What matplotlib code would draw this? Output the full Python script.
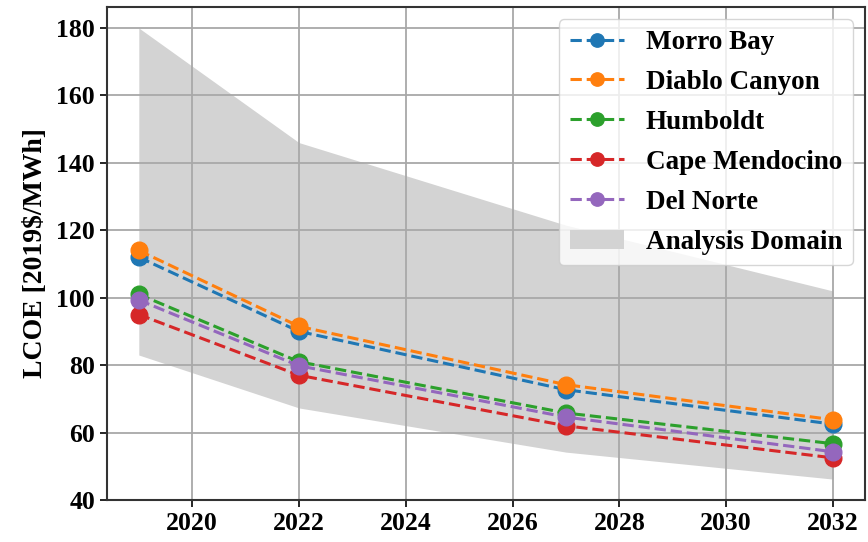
import numpy as np
import matplotlib.pyplot as plt

plt.rcParams["font.family"] = ["Liberation Serif", "DejaVu Serif"]
plt.rcParams["font.weight"] = "bold"

years = [2019, 2022, 2027, 2032]
morro_bay = [112, 90, 72.7, 62.5]
diablo_canyon = [114, 91.5, 74.2, 63.8]
humboldt = [101, 81, 65.8, 56.7]
cape_mendocino = [95, 77, 62, 52.5]
del_norte = [99.3, 79.8, 64.6, 54.3]
domain_upper = [180, 146, 121.5, 102]
domain_lower = [83, 67.3, 54.2, 46.2]

series = [
    ("Morro Bay", morro_bay, "tab:blue"),
    ("Diablo Canyon", diablo_canyon, "tab:orange"),
    ("Humboldt", humboldt, "tab:green"),
    ("Cape Mendocino", cape_mendocino, "tab:red"),
    ("Del Norte", del_norte, "tab:purple"),
]

fig = plt.figure(figsize=(8.68, 5.42), dpi=100)
ax = fig.add_axes([0.123, 0.0775, 0.8735, 0.9095])

for label, vals, color in series:
    ax.plot(years, vals, "--o", color=color, label=label,
            linewidth=2.2, markersize=12)

ax.fill_between(years, domain_lower, domain_upper, color="lightgray",
                linewidth=0, label="Analysis Domain", zorder=0.3)

ax.set_xlim(2018.4, 2032.6)
ax.set_ylim(40, 186.2)
ax.set_xticks(np.arange(2020, 2033, 2))
ax.set_yticks(np.arange(40, 181, 20))
ax.grid(True, color="#a8a8a8", linewidth=1.3)
ax.set_axisbelow(True)
ax.tick_params(labelsize=18.5, width=1.2, length=5)
for s in ax.spines.values():
    s.set_linewidth(1.5)
    s.set_color("#333333")

ax.set_ylabel("LCOE [2019$/MWh]", fontsize=20, fontweight="bold", labelpad=6)
ax.legend(loc="upper right", fontsize=19.5, borderaxespad=0.45,
          markerscale=0.8, handlelength=2.0, labelspacing=0.55)

fig.savefig("out.png", dpi=100)
